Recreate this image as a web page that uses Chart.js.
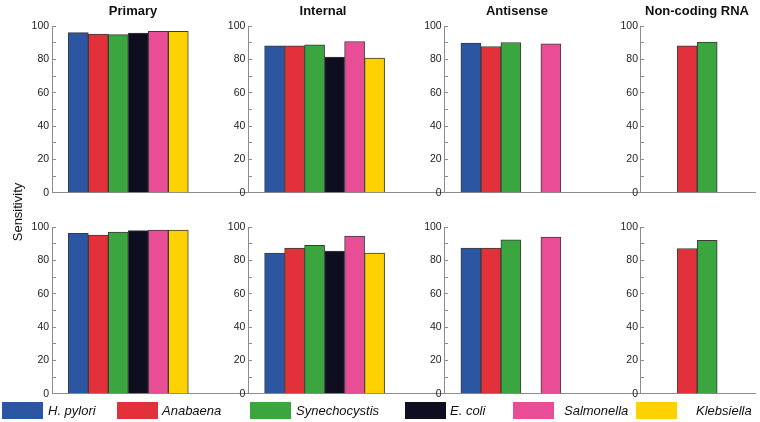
<!DOCTYPE html>
<html>
<head>
<meta charset="utf-8">
<script src="https://cdn.jsdelivr.net/npm/chart.js@4.4.1/dist/chart.umd.min.js"></script>
<style>
  html, body { margin: 0; padding: 0; background: #fff; }
  #wrap { position: relative; width: 760px; height: 422px; overflow: hidden;
          font-family: "Liberation Sans", Arial, sans-serif; color: #111; }
  canvas { position: absolute; left: 0; }
  .title { position: absolute; top: 3px; font-weight: bold; font-size: 13px;
           transform: translateX(-50%); white-space: nowrap; }
  #ylabel { position: absolute; left: 17px; top: 212px; font-size: 13px; white-space: nowrap;
            transform: translate(-50%, -50%) rotate(-90deg); }
  .leg-box { position: absolute; top: 402px; width: 41px; height: 17px; }
  .leg-text { position: absolute; top: 402px; font-size: 13px; font-style: italic; line-height: 17px; white-space: nowrap; }
</style>
</head>
<body>
<div id="wrap">
  <canvas id="topRow" width="760" height="206" style="top:0"></canvas>
  <canvas id="bottomRow" width="760" height="206" style="top:201px"></canvas>
  <div id="ylabel">Sensitivity</div>
</div>
<script>
const panels = ['Primary', 'Internal', 'Antisense', 'Non-coding RNA'];
const species = ['H. pylori', 'Anabaena', 'Synechocystis', 'E. coli', 'Salmonella', 'Klebsiella'];
const speciesColors = ['#2b57a2', '#e2313a', '#3ba540', '#0e0e20', '#e84d95', '#fdd200'];
const yTickLabels = [0, 20, 40, 60, 80, 100];

// top row: one value per panel (null = no bar)
const hPyloriTop       = [96.0, 88.1, 89.7, null];
const anabaenaTop      = [95.2, 88.1, 87.7, 88.1];
const synechocystisTop = [94.8, 88.7, 90.1, 90.3];
const eColiTop         = [95.8, 81.4, null, null];
const salmonellaTop    = [96.8, 90.7, 89.3, null];
const klebsiellaTop    = [96.8, 80.8, null, null];

// bottom row
const hPyloriBottom       = [96.2, 84.4, 87.3, null];
const anabaenaBottom      = [95.2, 87.4, 87.3, 87.1];
const synechocystisBottom = [97.0, 89.0, 92.3, 92.0];
const eColiBottom         = [97.8, 85.6, null, null];
const salmonellaBottom    = [98.2, 94.5, 94.0, null];
const klebsiellaBottom    = [98.2, 84.4, null, null];

// --- layout ---
const X_MIN = -0.3887, X_MAX = 3.1926;   // panel index scale
const AXIS_SHIFT = 0.3887;               // y axis sits left of each bar group
const TITLE_X = [133, 323, 517, 697];
const LEGEND_BOX_X = [2, 117, 250, 405, 513, 636];
const LEGEND_TEXT_X = [48, 162, 296, 450, 564, 696];
const AXIS_GREY = '#8c8c8c';
const FONT = '"Liberation Sans", Arial, sans-serif';

function yAxis(idx) {
    return {
        type: 'linear',
        min: 0, max: 100,
        position: { x: idx - AXIS_SHIFT },
        border: { display: true, color: AXIS_GREY, width: 1 },
        grid: { drawOnChartArea: false, drawTicks: true, tickLength: -4, color: AXIS_GREY },
        ticks: {
            stepSize: 10, padding: 7, color: '#222',
            font: { family: FONT, size: 10.5 },
            // trailing space keeps the label off the axis line
            callback: v => yTickLabels.includes(v) ? v + ' ' : ''
        }
    };
}

function makeRow(canvasId, rows) {
    const datasets = rows.map((vals, s) => ({
        label: species[s],
        data: vals.map((v, i) => ({ x: i, y: v })).filter(p => p.y !== null),
        backgroundColor: speciesColors[s],
        borderColor: '#3b3b3b',
        borderWidth: 1,
        barThickness: 20
    }));

    const scales = {
        x: {
            type: 'linear', min: X_MIN, max: X_MAX, offset: false,
            ticks: { display: false },
            grid: { display: false, drawTicks: false },
            border: { display: true, color: AXIS_GREY, width: 1 }
        },
        y: yAxis(0)
    };
    for (let i = 1; i < panels.length; i++) scales['y' + i] = yAxis(i);

    return new Chart(document.getElementById(canvasId), {
        type: 'bar',
        data: { datasets },
        options: {
            responsive: false,
            animation: false,
            devicePixelRatio: 1,
            layout: { padding: { left: 52, right: 5, top: 26, bottom: 9 } },
            plugins: { legend: { display: false }, tooltip: { enabled: false } },
            scales
        }
    });
}

makeRow('topRow', [hPyloriTop, anabaenaTop, synechocystisTop, eColiTop, salmonellaTop, klebsiellaTop]);
makeRow('bottomRow', [hPyloriBottom, anabaenaBottom, synechocystisBottom, eColiBottom, salmonellaBottom, klebsiellaBottom]);

// panel titles + legend
const wrap = document.getElementById('wrap');
panels.forEach((p, i) => {
    const d = document.createElement('div');
    d.className = 'title';
    d.style.left = TITLE_X[i] + 'px';
    d.textContent = p;
    wrap.appendChild(d);
});
species.forEach((s, i) => {
    const box = document.createElement('div');
    box.className = 'leg-box';
    box.style.left = LEGEND_BOX_X[i] + 'px';
    box.style.background = speciesColors[i];
    wrap.appendChild(box);
    const t = document.createElement('div');
    t.className = 'leg-text';
    t.style.left = LEGEND_TEXT_X[i] + 'px';
    t.textContent = s;
    wrap.appendChild(t);
});
</script>
</body>
</html>
